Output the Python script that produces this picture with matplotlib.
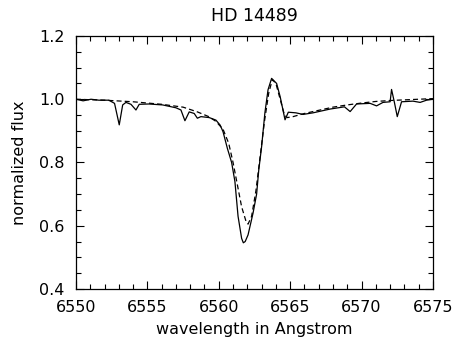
import numpy as np
import matplotlib.pyplot as plt
from matplotlib.ticker import MultipleLocator

# observed spectrum (solid)
obs_wave = [6550.0, 6550.5, 6551.05, 6551.6, 6552.3, 6552.7, 6553.03, 6553.27, 6553.5,
            6553.85, 6554.2, 6554.43, 6555.1, 6556.07, 6557.0, 6557.35, 6557.63, 6557.93,
            6558.28, 6558.5, 6558.75, 6559.33, 6559.8, 6560.1, 6560.3, 6560.6, 6560.9,
            6561.13, 6561.35, 6561.6, 6561.72, 6561.85, 6562.05, 6562.4, 6562.65, 6562.8,
            6563.0, 6563.23, 6563.45, 6563.7, 6564.05, 6564.3, 6564.64, 6564.87, 6565.4,
            6565.9, 6566.6, 6567.8, 6568.8, 6569.2, 6569.65, 6570.6, 6571.05, 6571.5,
            6572.0, 6572.1, 6572.3, 6572.5, 6572.8, 6573.6, 6574.1, 6574.55, 6575.0]
obs_flux = [1.0, 0.995, 1.0, 0.997, 0.997, 0.987, 0.919, 0.982, 0.99,
            0.984, 0.966, 0.984, 0.985, 0.982, 0.973, 0.966, 0.932, 0.96,
            0.955, 0.94, 0.945, 0.942, 0.934, 0.918, 0.897, 0.845, 0.80,
            0.74, 0.63, 0.56, 0.546, 0.55, 0.571, 0.64, 0.70, 0.776,
            0.85, 0.957, 1.03, 1.066, 1.05, 1.008, 0.935, 0.959, 0.957,
            0.952, 0.957, 0.969, 0.976, 0.961, 0.985, 0.987, 0.979, 0.99,
            0.992, 1.031, 0.99, 0.945, 0.992, 0.994, 0.99, 0.997, 1.0]

# model spectrum (dashed)
mod_wave = [6550, 6552, 6554, 6556, 6557.5, 6558.5, 6559.3, 6559.8, 6560.3, 6560.7,
            6561.0, 6561.3, 6561.6, 6561.9, 6562.05, 6562.3, 6562.6, 6562.9, 6563.2,
            6563.5, 6563.75, 6564.0, 6564.3, 6564.6, 6564.8, 6565.2, 6566, 6567, 6568,
            6569, 6570, 6571, 6572, 6573, 6574, 6575]
mod_flux = [1.0, 0.997, 0.992, 0.984, 0.975, 0.96, 0.945, 0.93, 0.905, 0.86,
            0.80, 0.73, 0.66, 0.615, 0.605, 0.63, 0.71, 0.82, 0.93,
            1.02, 1.062, 1.05, 1.0, 0.95, 0.942, 0.945, 0.955, 0.965, 0.975,
            0.982, 0.988, 0.993, 0.996, 0.998, 1.0, 1.002]

fig = plt.figure(figsize=(4.65, 3.55), dpi=100)
ax = fig.add_axes([0.1634, 0.186, 0.7677, 0.7126])

ax.plot(obs_wave, obs_flux, color='black', lw=0.9)
ax.plot(mod_wave, mod_flux, color='black', lw=0.9, dashes=(4, 2.5))

ax.set_xlim(6550, 6575)
ax.set_ylim(0.4, 1.2)
ax.xaxis.set_major_locator(MultipleLocator(5))
ax.xaxis.set_minor_locator(MultipleLocator(1))
ax.yaxis.set_major_locator(MultipleLocator(0.2))
ax.yaxis.set_minor_locator(MultipleLocator(0.05))
ax.yaxis.set_major_formatter(plt.FormatStrFormatter('%.1f'))
ax.tick_params(which='both', direction='in', top=True, right=True, labelsize=11.5, width=0.8)
ax.tick_params(which='major', length=6, pad=8)
ax.tick_params(which='minor', length=3.5)
for s in ax.spines.values():
    s.set_linewidth(0.9)

ax.set_xlabel('wavelength in Angstrom', fontsize=11.5, labelpad=5)
ax.set_ylabel('normalized flux', fontsize=11.5, labelpad=9)
ax.set_title('HD 14489', fontsize=12.5, pad=11)

fig.savefig('out.png', dpi=100)
